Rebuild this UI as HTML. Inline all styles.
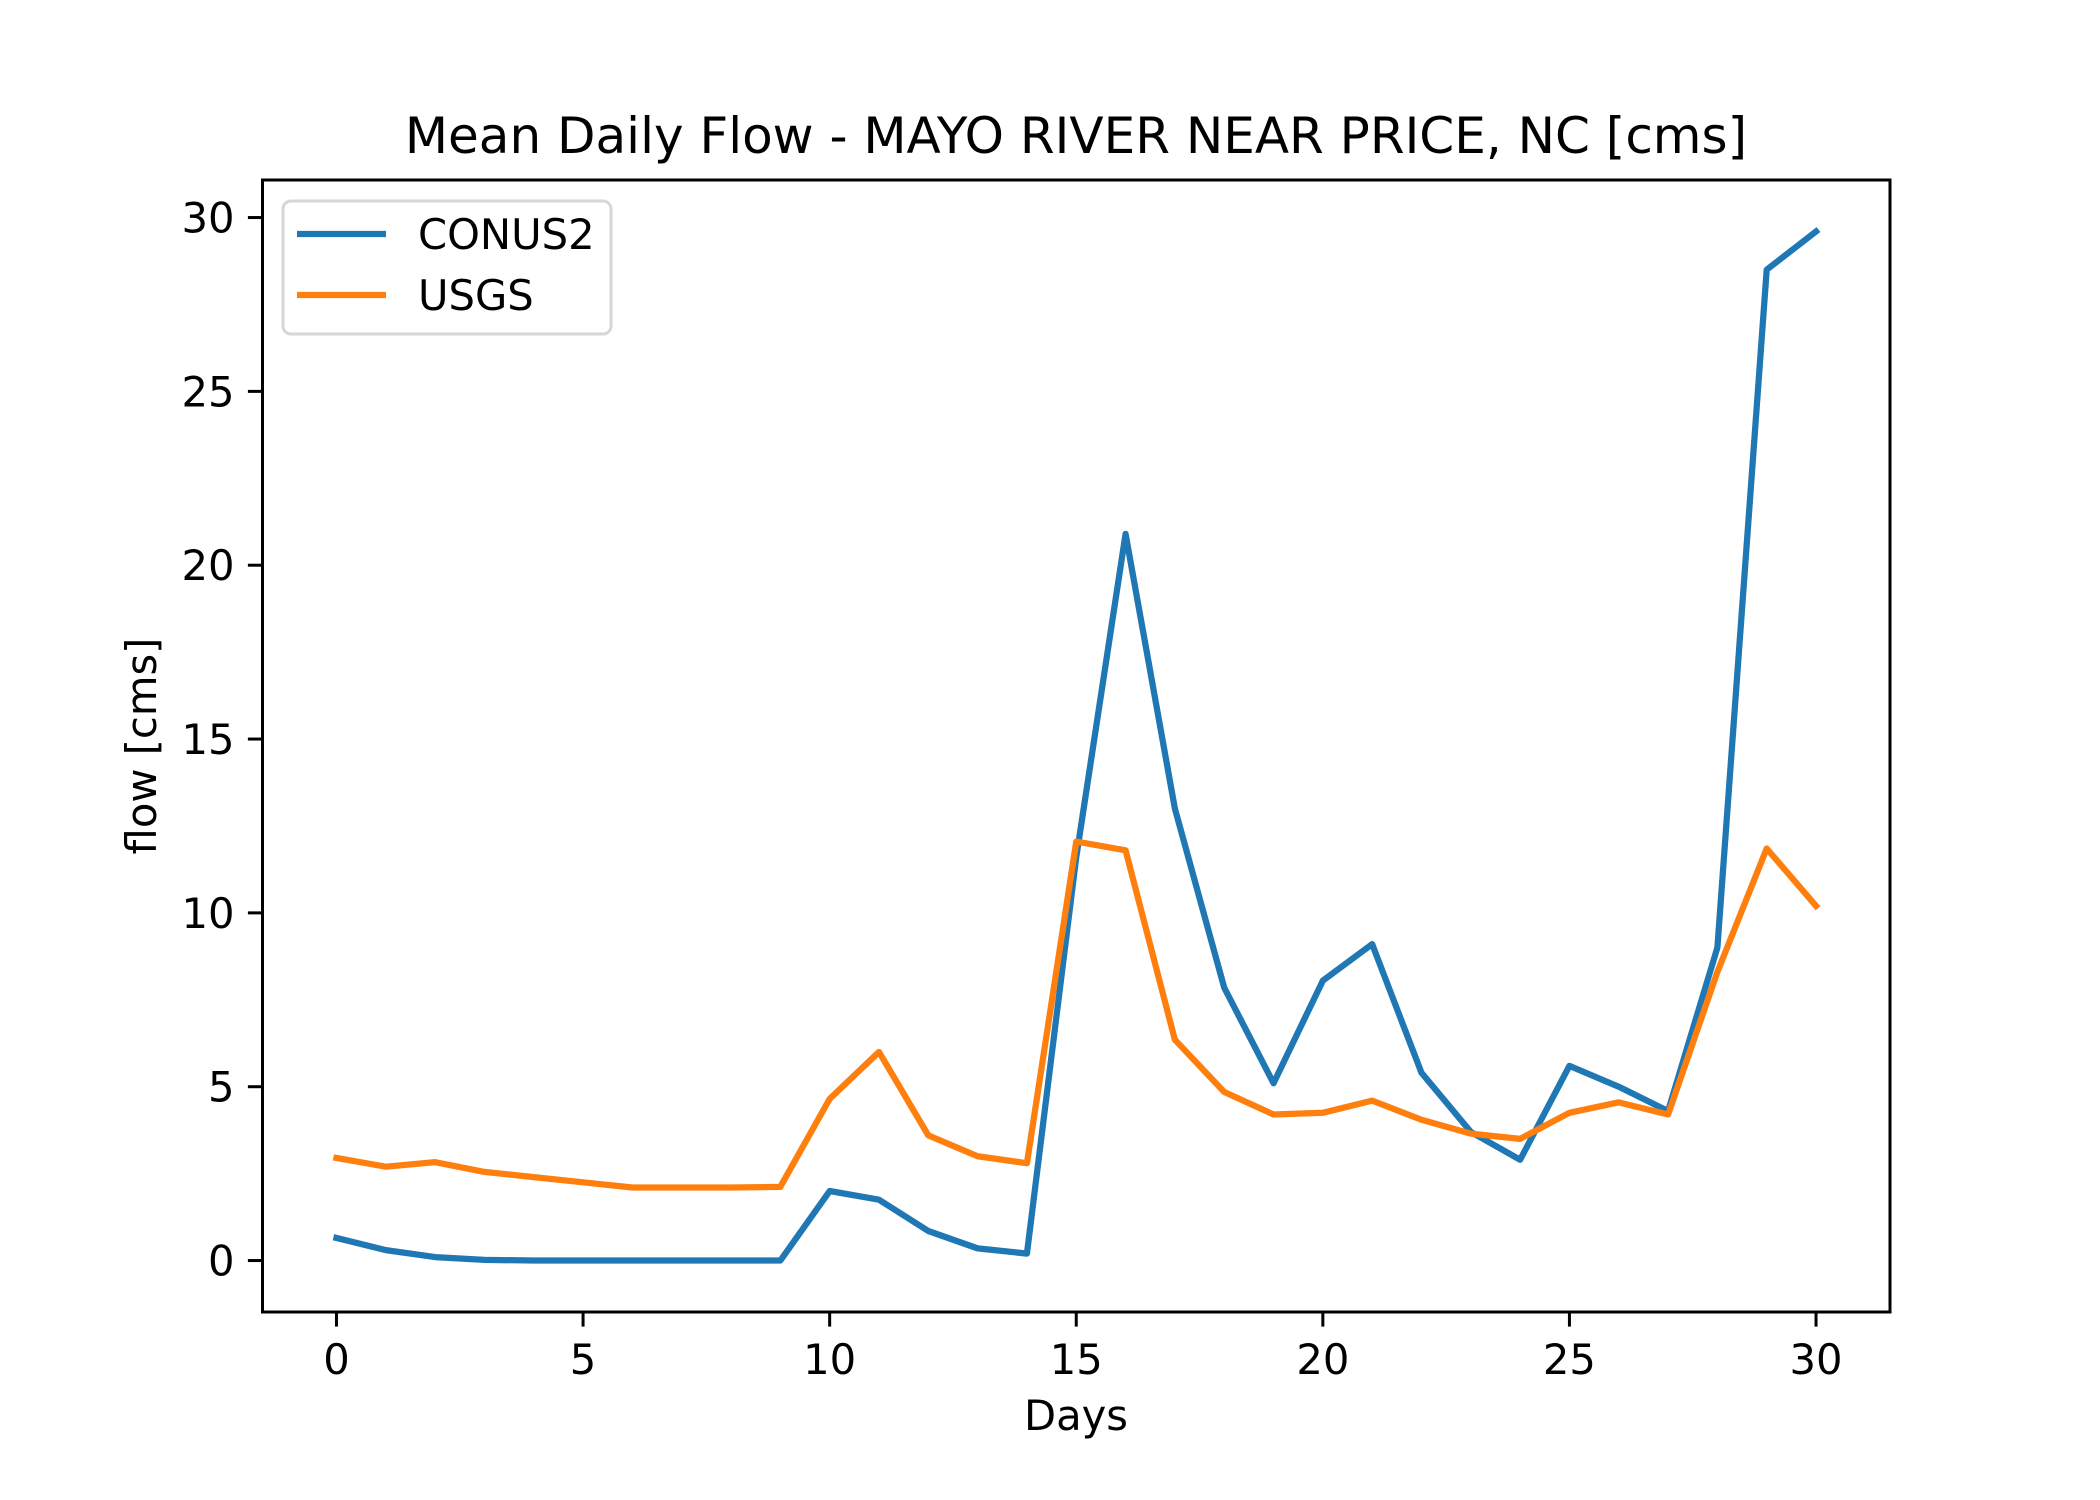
<!DOCTYPE html>
<html><head><meta charset="utf-8"><style>
html,body{margin:0;padding:0;background:#fff;}
svg{display:block;font-family:"DejaVu Sans","Liberation Sans",sans-serif;}
</style></head><body>
<svg id="chart" width="2100" height="1500" viewBox="0 0 2100 1500">
<rect width="2100" height="1500" fill="#fff"/>
<text x="1076" y="153" font-size="50" text-anchor="middle">Mean Daily Flow - MAYO RIVER NEAR PRICE, NC [cms]</text>
<g id="plot"></g>
<rect x="262.5" y="180" width="1627.5" height="1132" fill="none" stroke="#000" stroke-width="3"/>
<g id="xt"></g><g id="yt"></g>
<text x="1076" y="1430" font-size="41.7" text-anchor="middle">Days</text>
<text transform="translate(156,746) rotate(-90)" font-size="41.7" text-anchor="middle">flow [cms]</text>
<g>
<rect x="283" y="201" width="328" height="133" rx="8" fill="#fff" fill-opacity="0.8" stroke="#d6d6d6" stroke-width="3"/>
<line x1="297" y1="234" x2="386" y2="234" stroke="#1f77b4" stroke-width="6.25"/>
<text x="418" y="249" font-size="41.7">CONUS2</text>
<line x1="297" y1="295" x2="386" y2="295" stroke="#ff7f0e" stroke-width="6.25"/>
<text x="418" y="310" font-size="41.7">USGS</text>
</g>
</svg>
<script>
const days=[0,1,2,3,4,5,6,7,8,9,10,11,12,13,14,15,16,17,18,19,20,21,22,23,24,25,26,27,28,29,30];
const conus2=[0.65,0.3,0.1,0.02,0,0,0,0,0,0,2.0,1.75,0.85,0.35,0.2,11.6,20.9,13.0,7.85,5.1,8.05,9.1,5.4,3.7,2.9,5.6,5.0,4.3,9.0,28.5,29.6];
const usgs=[2.95,2.7,2.83,2.55,2.4,2.25,2.1,2.1,2.1,2.12,4.65,6.0,3.6,3.0,2.8,12.05,11.8,6.35,4.85,4.2,4.25,4.6,4.05,3.65,3.5,4.25,4.55,4.2,8.3,11.85,10.2];
const xTicks=[0,5,10,15,20,25,30];
const yTicks=[0,5,10,15,20,25,30];
const NS='http://www.w3.org/2000/svg';
const L=262.5,R=1890,T=180,B=1312;
const allY=conus2.concat(usgs);
const xmin=Math.min(...days),xmax=Math.max(...days),xpad=(xmax-xmin)*0.05;
const ymin=Math.min(...allY),ymax=Math.max(...allY),ypad=(ymax-ymin)*0.05;
function sx(v){return L+(v-(xmin-xpad))/((xmax+xpad)-(xmin-xpad))*(R-L);}
function sy(v){return B-(v-(ymin-ypad))/((ymax+ypad)-(ymin-ypad))*(B-T);}
function mk(t,a){const e=document.createElementNS(NS,t);for(const k in a)e.setAttribute(k,a[k]);return e;}
const plot=document.getElementById('plot');
function series(vals,color,name){
  const p=mk('polyline',{points:vals.map((v,i)=>sx(days[i])+','+sy(v)).join(' '),fill:'none',stroke:color,'stroke-width':6.25,'stroke-linejoin':'round','stroke-linecap':'square'});
  
  
  plot.appendChild(p);
}
series(conus2,'#1f77b4','series-conus2');
series(usgs,'#ff7f0e','series-usgs');
const xt=document.getElementById('xt'),yt=document.getElementById('yt');
xTicks.forEach(v=>{
  const l=mk('line',{x1:sx(v),x2:sx(v),y1:B,y2:B+14.6,stroke:'#000','stroke-width':3});
  
  
  xt.appendChild(l);
  const t=mk('text',{x:sx(v),y:B+62,'font-size':41.7,'text-anchor':'middle'});
  t.textContent=v;
  
  
  xt.appendChild(t);
});
yTicks.forEach(v=>{
  const l=mk('line',{x1:L-14.6,x2:L,y1:sy(v),y2:sy(v),stroke:'#000','stroke-width':3});
  
  
  yt.appendChild(l);
  const t=mk('text',{x:L-28,y:sy(v)+15,'font-size':41.7,'text-anchor':'end'});
  t.textContent=v;
  
  
  yt.appendChild(t);
});
</script>
</body></html>
